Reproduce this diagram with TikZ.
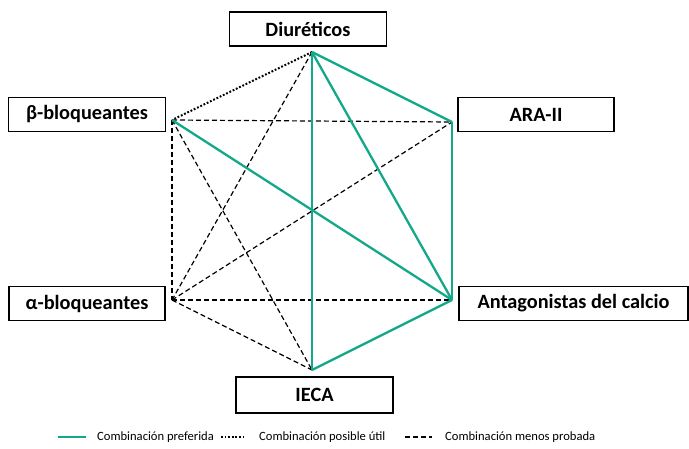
\documentclass[tikz,border=0pt]{standalone}
\usepackage{fontspec}
\setmainfont{Carlito}
\usetikzlibrary{positioning}
\definecolor{prefgreen}{RGB}{20,168,138}

\begin{document}
\begin{tikzpicture}[x=1pt,y=-1pt,
drugbox/.style={rectangle, draw=black, line width=1.2pt, minimum height=34pt, font=\bfseries\fontsize{20.3}{22}\selectfont, inner sep=0pt},
preferred/.style={draw=prefgreen, line width=2.3pt},
useful/.style={draw=black, line width=2pt, dash pattern=on 1.8pt off 1.8pt},
lessproved/.style={draw=black, line width=1.2pt, dash pattern=on 5pt off 3pt},
legendtext/.style={anchor=west, inner sep=0pt, font=\fontsize{12.6}{14}\selectfont},
]
\useasboundingbox (0,0) rectangle (689,448);

%Nodes
\node[drugbox, minimum width=157pt] (diur)   at (308,29)    {Diuréticos};
\node[drugbox, minimum width=157pt] (beta)   at (87,114.5)  {β-bloqueantes};
\node[drugbox, minimum width=156pt] (ara)    at (536,114.5) {ARA-II};
\node[drugbox, minimum width=156pt] (alpha)  at (87,303.5)  {α-bloqueantes};
\node[drugbox, minimum width=229pt] (antag)  at (573.5,303.5) {Antagonistas del calcio};
\node[drugbox, minimum width=157pt, minimum height=36pt] (ieca) at (314.5,395) {IECA};

%Corners of the hexagon
\coordinate (vdiur)  at (312,52);
\coordinate (vbeta)  at (172,120);
\coordinate (vara)   at (452,122);
\coordinate (valpha) at (172,300);
\coordinate (vantag) at (452,300);
\coordinate (vieca)  at (312,370);

%Lines
\draw[lessproved] (vdiur) -- (valpha);
\draw[lessproved] (vbeta) -- (vara);
\draw[lessproved] (vbeta) -- (valpha);
\draw[lessproved] (vbeta) -- (vieca);
\draw[lessproved] (valpha) -- (vara);
\draw[lessproved] (valpha) -- (vantag);
\draw[lessproved] (valpha) -- (vieca);
\draw[useful] (vdiur) -- (vbeta);
\draw[preferred] (vdiur) -- (vieca);
\draw[preferred] (vdiur) -- (vantag);
\draw[preferred] (vdiur) -- (vara);
\draw[preferred] (vbeta) -- (vantag);
\draw[preferred] (vara) -- (vantag);
\draw[preferred] (vieca) -- (vantag);

%Legend
\coordinate (lg1a) at (58,437);
\coordinate (lg1b) at (86,437);
\draw[preferred] (lg1a) -- (lg1b);
\node[legendtext] (lgpref) at (97,437) {Combinación preferida};
\coordinate (lg2a) at (221,437);
\coordinate (lg2b) at (246,437);
\draw[useful, line width=1.8pt] (lg2a) -- (lg2b);
\node[legendtext] (lguseful) at (259,437) {Combinación posible útil};
\coordinate (lg3a) at (405,437);
\coordinate (lg3b) at (432,437);
\draw[lessproved] (lg3a) -- (lg3b);
\node[legendtext] (lgless) at (445,437) {Combinación menos probada};
\end{tikzpicture}
\end{document}
